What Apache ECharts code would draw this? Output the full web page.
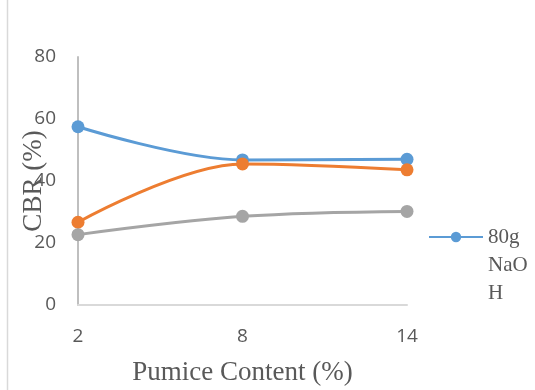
<!DOCTYPE html>
<html>
<head>
<meta charset="utf-8">
<script src="https://cdn.jsdelivr.net/npm/echarts@6/dist/echarts.min.js"></script>
<style>
html,body{margin:0;padding:0;background:#fff;}
#chart{width:535px;height:390px;}
</style>
</head>
<body>
<div id="chart"></div>
<script>
// Pumice content on the x axis, CBR on the y axis
const categories = ['2', '8', '14'];
const naoh80 = [57.5, 46.8, 47.0];
const series2 = [26.7, 45.5, 43.6];
const series3 = [22.7, 28.6, 30.2];
const yTicks = [0, 20, 40, 60, 80];

const serif = '"Liberation Serif", "Times New Roman", serif';
const sans = '"Open Sans", "Noto Sans", sans-serif';

function lineSeries(name, data, color) {
  return {
    name: name,
    type: 'line',
    data: data,
    smooth: 0.35,
    symbol: 'circle',
    symbolSize: 13,
    lineStyle: { color: color, width: 3 },
    itemStyle: { color: color },
    emphasis: { disabled: true }
  };
}

const chart = echarts.init(document.getElementById('chart'));
chart.setOption({
  animation: false,
  backgroundColor: '#fff',
  grid: { left: 78, right: 128, top: 57, bottom: 85, containLabel: false, outerBoundsMode: 'none' },
  legend: {
    data: ['80g NaOH'],
    left: 423,
    top: 162,
    itemWidth: 54,
    itemHeight: 13,
    formatter: function () { return '\n\n80g\nNaO\nH'; },
    textStyle: { fontFamily: serif, fontSize: 21, lineHeight: 28, color: '#595959' }
  },
  xAxis: {
    type: 'category',
    data: categories,
    boundaryGap: false,
    name: 'Pumice Content (%)',
    nameLocation: 'middle',
    nameGap: 54,
    nameMoveOverlap: false,
    nameTextStyle: { fontFamily: serif, fontSize: 27, color: '#595959' },
    axisLine: { lineStyle: { color: '#d9d9d9', width: 2 } },
    axisTick: { show: false },
    axisLabel: { fontFamily: sans, fontSize: 19, color: '#595959', margin: 22 },
    splitLine: { show: false }
  },
  yAxis: {
    type: 'value',
    min: yTicks[0],
    max: yTicks[yTicks.length - 1],
    interval: 20,
    name: 'CBR (%)',
    nameLocation: 'middle',
    nameGap: 31,
    nameMoveOverlap: false,
    nameTextStyle: { fontFamily: serif, fontSize: 27, color: '#595959' },
    axisLine: { show: true, lineStyle: { color: '#bfbfbf', width: 2 } },
    axisTick: { show: false },
    axisLabel: { fontFamily: sans, fontSize: 19, color: '#595959', margin: 22 },
    splitLine: { show: false }
  },
  graphic: [
    {
      type: 'line',
      shape: { x1: 7.5, y1: 0, x2: 7.5, y2: 390 },
      style: { stroke: '#d9d9d9', lineWidth: 1.5 }
    }
  ],
  series: [
    lineSeries('80g NaOH', naoh80, '#5b9bd5'),
    lineSeries('Series 2', series2, '#ed7d31'),
    lineSeries('Series 3', series3, '#a5a5a5')
  ]
});
</script>
</body>
</html>
